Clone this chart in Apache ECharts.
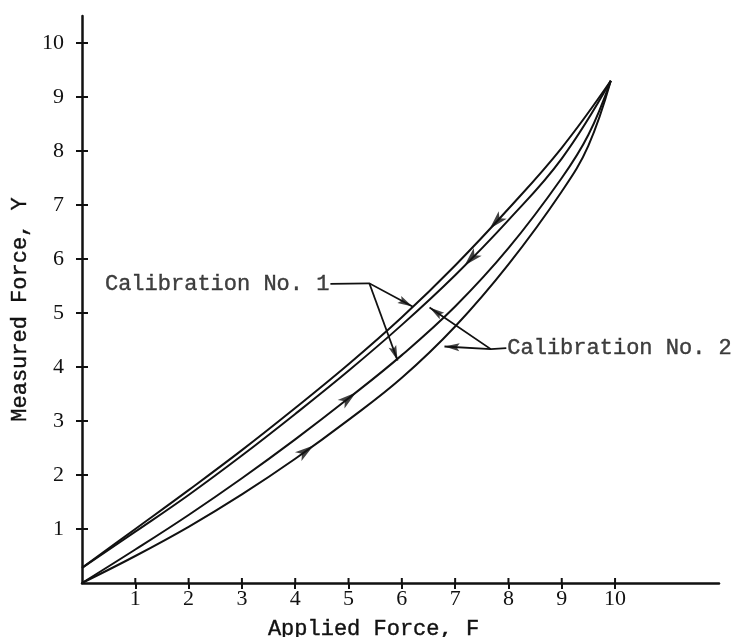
<!DOCTYPE html>
<html>
<head>
<meta charset="utf-8">
<script src="https://cdn.jsdelivr.net/npm/echarts@6/dist/echarts.min.js"></script>
<style>
html, body { margin: 0; background: #fff; }
#main { width: 735px; height: 637px; }
</style>
</head>
<body>
<div id="main"></div>
<script>
// tick values on both axes
var tickValues = [1, 2, 3, 4, 5, 6, 7, 8, 9, 10];

// calibration No. 1: unloading (top curve) and loading (third curve)
var cal1Down = [[0, 0.28], [1, 1.0], [2, 1.72], [3, 2.46], [4, 3.24], [5, 4.05], [6, 4.92], [7, 5.88], [8, 6.93], [9, 8.06], [9.92, 9.3]];
var cal1Up = [[0, 0], [1, 0.62], [2, 1.26], [3, 1.94], [4, 2.66], [5, 3.42], [6, 4.22], [7, 5.12], [8, 6.2], [9, 7.5], [9.5, 8.3], [9.92, 9.3]];
// calibration No. 2: unloading (second curve) and loading (bottom curve)
var cal2Down = [[0, 0.28], [1, 0.95], [2, 1.63], [3, 2.36], [4, 3.13], [5, 3.93], [6, 4.78], [7, 5.7], [8, 6.72], [9, 7.86], [9.92, 9.3]];
var cal2Up = [[0, 0], [1, 0.5], [2, 1.04], [3, 1.64], [4, 2.3], [5, 3.02], [6, 3.8], [7, 4.75], [8, 5.9], [9, 7.25], [9.5, 8.1], [9.92, 9.3]];

// direction arrows: curve, x position, direction (+1 along increasing x)
var dirArrows = [['cal1Down', 7.77, -1], ['cal2Down', 7.3, -1], ['cal1Up', 5.0, 1], ['cal2Up', 4.2, 1]];

// annotation text anchors and leader lines (data coordinates)
var labelNames = ['Calibration No. 1', 'Calibration No. 2'];
var labelAnchors = [[4.66, 5.54], [7.96, 4.35]];
var leaders = [
    [[4.66, 5.54], [5.39, 5.55], [6.2, 5.12]],
    [[5.39, 5.55], [5.92, 4.12]],
    [[7.96, 4.35], [7.67, 4.33], [6.52, 5.1]],
    [[7.67, 4.33], [6.8, 4.38]]
];

var curves = {cal1Down: cal1Down, cal1Up: cal1Up, cal2Down: cal2Down, cal2Up: cal2Up};

function interp(c, x) {
    for (var i = 1; i < c.length; i++) {
        if (x <= c[i][0]) {
            var t = (x - c[i - 1][0]) / (c[i][0] - c[i - 1][0]);
            return c[i - 1][1] + t * (c[i][1] - c[i - 1][1]);
        }
    }
    return c[c.length - 1][1];
}

var mono = 'Liberation Mono';
var serif = 'Liberation Serif';
var ink = '#111';

var myChart = echarts.init(document.getElementById('main'));

function curveSeries(name, data) {
    return {
        name: name,
        type: 'line',
        data: data,
        smooth: 0.4,
        showSymbol: false,
        lineStyle: {color: ink, width: 2},
        z: 3
    };
}

// inner half of the cross ticks
function innerTicks(isX) {
    return {
        type: 'custom',
        clip: false,
        silent: true,
        data: tickValues.map(function (v) { return isX ? [v, 0] : [0, v]; }),
        renderItem: function (params, api) {
            var p = api.coord([api.value(0), api.value(1)]);
            return {
                type: 'line',
                shape: isX ? {x1: p[0], y1: p[1], x2: p[0], y2: p[1] - 5} : {x1: p[0], y1: p[1], x2: p[0] + 6, y2: p[1]},
                style: {stroke: ink, lineWidth: 2}
            };
        },
        z: 6
    };
}

var option = {
    animation: false,
    grid: {left: 82, right: 16, top: 16, bottom: 54, outerBoundsMode: 'none', containLabel: false},
    xAxis: {
        type: 'value', min: 0, max: 11.95,
        axisLine: {lineStyle: {color: ink, width: 2.5}},
        axisTick: {show: true, customValues: tickValues, length: 6, lineStyle: {color: ink, width: 2}},
        axisLabel: {customValues: tickValues, color: ink, fontFamily: serif, fontSize: 22, margin: 5},
        splitLine: {show: false},
        name: 'Applied Force, F',
        nameLocation: 'middle',
        nameGap: 35,
        nameTextStyle: {fontFamily: mono, fontSize: 22, color: ink, padding: [0, 54, 0, 0], textBorderColor: ink, textBorderWidth: 0.4}
    },
    yAxis: {
        type: 'value', min: 0, max: 10.5,
        axisLine: {show: true, lineStyle: {color: ink, width: 2.5}},
        axisTick: {show: true, customValues: tickValues, length: 6, lineStyle: {color: ink, width: 2}},
        axisLabel: {customValues: tickValues, color: ink, fontFamily: serif, fontSize: 22, margin: 18},
        splitLine: {show: false},
        name: 'Measured Force, Y',
        nameLocation: 'middle',
        nameGap: 51,
        nameTextStyle: {fontFamily: mono, fontSize: 22, color: ink, padding: [0, 20, 0, 0], textBorderColor: ink, textBorderWidth: 0.4}
    },
    series: [
        curveSeries('cal1Down', cal1Down),
        curveSeries('cal1Up', cal1Up),
        curveSeries('cal2Down', cal2Down),
        curveSeries('cal2Up', cal2Up),
        innerTicks(true),
        innerTicks(false),
        {
            id: 'arrows',
            type: 'scatter',
            symbol: 'path://M0,0 L5,16 L0,12 L-5,16 Z',
            symbolSize: [11, 19],
            itemStyle: {color: ink},
            data: [],
            z: 5
        },
        {
            id: 'heads',
            type: 'scatter',
            symbol: 'path://M0,0 L4,16 L0,13 L-4,16 Z',
            symbolSize: [8, 15],
            itemStyle: {color: ink},
            data: [],
            z: 5
        },
        {
            type: 'lines',
            coordinateSystem: 'cartesian2d',
            polyline: true,
            lineStyle: {color: ink, width: 1.8, opacity: 1},
            data: leaders.map(function (c) { return {coords: c}; }),
            z: 4
        },
        {
            type: 'scatter',
            symbolSize: 0,
            data: labelAnchors.map(function (a, i) {
                return {value: a, label: {position: i === 0 ? 'left' : 'right'}};
            }),
            label: {
                show: true,
                color: ink,
                fontFamily: mono,
                fontSize: 22,
                distance: 1,
                textBorderColor: ink,
                textBorderWidth: 0.4,
                formatter: function (p) { return labelNames[p.dataIndex]; }
            },
            z: 6
        }
    ]
};

option && myChart.setOption(option);

function rotOf(dx, dy) {
    return Math.atan2(-dy, dx) * 180 / Math.PI - 90;
}

// rotate the direction arrows along the curves
var arrowData = dirArrows.map(function (a) {
    var c = curves[a[0]], x = a[1], dir = a[2];
    var p0 = myChart.convertToPixel({gridIndex: 0}, [x - 0.1, interp(c, x - 0.1)]);
    var p1 = myChart.convertToPixel({gridIndex: 0}, [x + 0.1, interp(c, x + 0.1)]);
    return {value: [x, interp(c, x)], symbolRotate: rotOf((p1[0] - p0[0]) * dir, (p1[1] - p0[1]) * dir)};
});

// arrowheads at the ends of the leader lines
var headData = leaders.map(function (c) {
    var a = myChart.convertToPixel({gridIndex: 0}, c[c.length - 2]);
    var b = myChart.convertToPixel({gridIndex: 0}, c[c.length - 1]);
    var dx = b[0] - a[0], dy = b[1] - a[1];
    var len = Math.sqrt(dx * dx + dy * dy);
    var mid = [b[0] - dx / len * 7.5, b[1] - dy / len * 7.5];
    return {value: myChart.convertFromPixel({gridIndex: 0}, mid), symbolRotate: rotOf(dx, dy)};
});

myChart.setOption({series: [{id: 'arrows', data: arrowData}, {id: 'heads', data: headData}]});
</script>
</body>
</html>
